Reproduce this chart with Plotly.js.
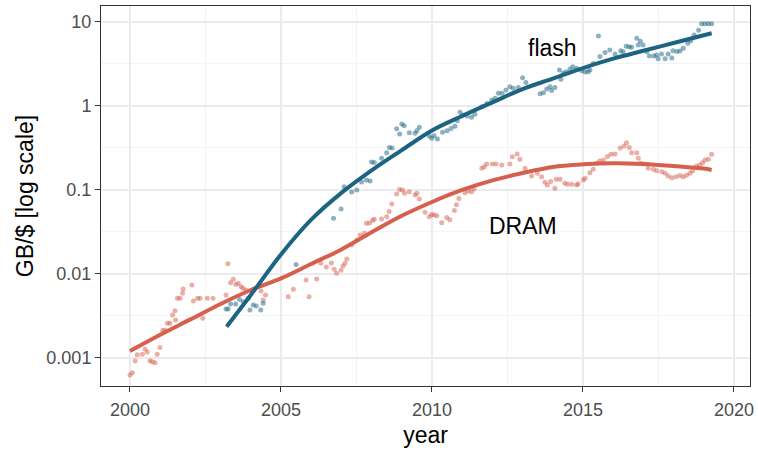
<!DOCTYPE html>
<html>
<head>
<meta charset="utf-8">
<script src="https://cdn.plot.ly/plotly-3.0.1.min.js"></script>
<style>html,body{margin:0;padding:0;background:#fff;}#chart{width:758px;height:450px;}</style>
</head>
<body>
<div id="chart"></div>
<script>
// DRAM price observations (GB per $)
const dramYear = [2000.00,2000.08,2000.17,2000.24,2000.41,2000.50,2000.57,2000.66,2000.74,2000.83,2000.90,2000.99,
  2001.08,2001.16,2001.24,2001.32,2001.41,2001.49,2001.51,2001.57,2001.66,2001.74,2001.76,
  2002.05,2002.10,2002.24,2002.32,2002.41,2002.56,2002.75,
  2003.18,2003.24,2003.33,2003.42,2003.50,2003.59,2003.68,2003.74,2003.84,
  2004.34,2004.41,2004.49,2005.24,2005.41,2005.83,2005.93,
  2006.18,2006.32,2006.50,2006.67,2006.76,2006.84,2006.99,2007.05,2007.12,2007.18,2007.34,2007.51,2007.62,2007.76,2007.83,2007.93,
  2008.03,2008.09,2008.33,2008.50,2008.58,2008.67,2008.83,2008.93,2009.02,2009.09,2009.25,2009.44,2009.50,2009.58,2009.77,2009.91,2009.99,
  2010.07,2010.16,2010.32,2010.49,2010.59,2010.74,2010.81,2010.89,2011.09,2011.20,2011.31,2011.39,2011.65,2011.73,2011.81,
  2012.00,2012.12,2012.31,2012.58,2012.66,2012.82,2012.91,2013.08,2013.30,2013.49,2013.63,2013.74,2013.82,2013.93,
  2014.07,2014.11,2014.24,2014.40,2014.49,2014.63,2014.79,2014.84,2015.01,2015.07,2015.23,2015.34,2015.45,2015.55,2015.68,2015.81,2015.93,
  2016.06,2016.23,2016.36,2016.44,2016.53,2016.61,2016.78,2016.83,2016.91,2017.02,2017.16,2017.33,2017.44,2017.61,2017.72,2017.82,2017.94,
  2018.08,2018.21,2018.32,2018.43,2018.54,2018.63,2018.76,2018.87,2018.96,2019.04,2019.15,2019.26];
const dramValue = [0.000628,0.000668,0.00092,0.00109,0.00111,0.00128,0.00118,0.00093,0.0009,0.00088,0.00111,0.00133,
  0.00212,0.00215,0.00259,0.0026,0.00325,0.00366,0.00283,0.00514,0.00514,0.00589,0.00663,
  0.00739,0.00477,0.00514,0.00514,0.00297,0.00514,0.00514,
  0.00562,0.0132,0.00788,0.00865,0.00754,0.0077,0.00706,0.00676,0.00645,
  0.00628,0.0049,0.00562,0.00537,0.00658,0.00849,0.00537,
  0.00872,0.0134,0.0121,0.0135,0.0114,0.0102,0.0111,0.01245,0.0134,0.0151,0.0221,0.0254,0.0291,0.0305,0.0402,0.0405,
  0.0436,0.0448,0.0451,0.0481,0.0555,0.0681,0.0896,0.101,0.1,0.0917,0.0955,0.0871,0.0914,0.0781,0.0543,0.0481,0.051,
  0.0504,0.0495,0.0408,0.0471,0.0442,0.057,0.0667,0.0791,0.0929,0.0973,0.0955,0.1028,0.181,0.189,0.204,
  0.204,0.204,0.199,0.204,0.249,0.268,0.232,0.181,0.147,0.158,0.144,0.124,0.115,0.126,
  0.105,0.134,0.134,0.120,0.117,0.117,0.115,0.119,0.1315,0.138,0.16,0.176,0.208,0.222,0.228,0.25,0.266,
  0.268,0.316,0.334,0.366,0.32,0.278,0.278,0.238,0.208,0.204,0.181,0.176,0.170,0.165,0.158,0.147,0.140,
  0.144,0.149,0.144,0.15,0.158,0.168,0.193,0.199,0.211,0.228,0.232,0.266];

// Flash price observations (GB per $)
const flashYear = [2003.18,2003.25,2003.33,2003.50,2003.63,2003.75,2003.92,2003.97,2004.08,2004.18,2004.33,2004.41,
  2005.50,2006.74,2006.99,2007.09,2007.34,2007.51,2007.67,2007.83,2007.95,
  2008.00,2008.09,2008.33,2008.50,2008.59,2008.68,2008.83,2008.93,2009.00,2009.08,2009.25,2009.44,2009.50,2009.58,2009.91,2009.99,
  2010.07,2010.18,2010.35,2010.50,2010.63,2010.76,2010.84,2010.93,2011.02,2011.16,2011.31,2011.42,2011.65,2011.82,2011.98,
  2012.09,2012.20,2012.32,2012.45,2012.58,2012.69,2012.86,2013.00,2013.11,2013.58,2013.69,2013.80,2013.91,2013.96,
  2014.07,2014.22,2014.27,2014.35,2014.44,2014.57,2014.66,2014.79,2014.96,2015.07,2015.17,2015.23,2015.34,2015.51,2015.56,2015.73,2015.89,
  2016.06,2016.25,2016.33,2016.43,2016.53,2016.61,2016.78,2016.83,2016.90,2016.99,2017.11,2017.20,2017.35,2017.44,2017.49,2017.60,2017.72,2017.82,2017.94,2017.98,
  2018.11,2018.21,2018.32,2018.47,2018.57,2018.68,2018.83,2018.93,2019.04,2019.15,2019.26];
const flashValue = [0.00383,0.00383,0.0044,0.0044,0.00497,0.00468,0.00514,0.00373,0.00428,0.00416,0.00373,0.00448,
  0.0130,0.046,0.0594,0.109,0.0946,0.1,0.1245,0.1315,0.128,
  0.215,0.213,0.238,0.278,0.321,0.316,0.537,0.464,0.611,0.583,0.481,0.473,0.508,0.557,0.44,0.412,
  0.443,0.405,0.486,0.507,0.54,0.572,0.668,0.84,0.781,0.76,0.735,0.80,0.982,1.07,1.178,
  1.235,1.416,1.416,1.55,1.70,1.624,1.66,2.17,1.91,1.40,1.44,1.59,1.69,1.53,
  1.66,2.68,2.08,2.45,2.56,2.75,2.93,2.81,2.62,2.54,2.56,2.68,3.2,6.81,3.88,4.34,4.64,
  4.15,4.55,4.43,5.13,5.08,5.0,6.39,5.32,5.9,5.32,4.43,3.94,3.94,4.05,3.65,4.16,3.65,4.16,3.73,4.55,
  4.45,4.5,4.86,5.57,5.98,7.0,7.97,9.55,9.55,9.55,9.55];

// Smoothed trends
const dramFitYear = [2000,2001,2002,2003,2004,2005,2006,2007,2008,2009,2010,2011,2012,2013,2014,2015,2016,2017,2018,2019,2019.26];
const dramFitValue = [0.00121,0.00189,0.00288,0.0044,0.00645,0.00887,0.01315,0.0196,0.0314,0.0493,0.072,0.1,0.130,0.159,0.188,0.202,0.208,0.204,0.193,0.180,0.173];
const flashFitYear = [2003.2,2004,2005,2006,2007,2008,2009,2010,2011,2012,2013,2014,2015,2016,2017,2018,2019,2019.26];
const flashFitValue = [0.00236,0.00562,0.0171,0.0443,0.0923,0.171,0.298,0.511,0.760,1.104,1.59,2.12,2.83,3.66,4.54,5.62,6.95,7.34];

const yTickVals = [0.001,0.01,0.1,1,10];
const yTickText = ['0.001','0.01','0.1','1','10'];
const xTickVals = [2000,2005,2010,2015,2020];
const labels = [{text:'flash', x:2014.0, y:4.9}, {text:'DRAM', x:2013.0, y:0.0373}];

const flashCol = '#1c6482';
const dramCol = '#d6604d';

const traces = [
  {x: dramYear, y: dramValue, type:'scatter', mode:'markers', marker:{color:dramCol, size:5, opacity:0.5}, hoverinfo:'skip'},
  {x: flashYear, y: flashValue, type:'scatter', mode:'markers', marker:{color:flashCol, size:5, opacity:0.5}, hoverinfo:'skip'},
  {x: dramFitYear, y: dramFitValue, type:'scatter', mode:'lines', line:{color:dramCol, width:4, shape:'spline', smoothing:1}, hoverinfo:'skip'},
  {x: flashFitYear, y: flashFitValue, type:'scatter', mode:'lines', line:{color:flashCol, width:4, shape:'spline', smoothing:1}, hoverinfo:'skip'}
];

const fam = '"Liberation Sans", Arial, sans-serif';
const layout = {
  width:758, height:450,
  margin:{l:101, r:8, t:6, b:64},
  paper_bgcolor:'#fff', plot_bgcolor:'#fff',
  showlegend:false,
  font:{family:fam},
  xaxis:{
    range:[1999.04, 2020.53],
    tickvals:xTickVals, ticktext:xTickVals.map(String),
    tickfont:{family:fam, size:18, color:'#4d4d4d'},
    ticks:'outside', ticklen:5, tickcolor:'#333333', tickwidth:1,
    ticklabelstandoff:2,
    showgrid:true, gridcolor:'#ebebeb', gridwidth:1.1,
    minor:{tickvals:[2002.5,2007.5,2012.5,2017.5], showgrid:true, gridcolor:'#ebebeb', gridwidth:0.55, ticklen:0},
    showline:true, linecolor:'#333333', linewidth:1, mirror:true,
    zeroline:false, automargin:false,
    title:{text:'year', font:{family:fam, size:23, color:'#000'}, standoff:8}
  },
  yaxis:{
    type:'log',
    range:[Math.log10(0.000464), Math.log10(15.5)],
    tickvals:yTickVals, ticktext:yTickText,
    tickfont:{family:fam, size:18, color:'#4d4d4d'},
    ticks:'outside', ticklen:5, tickcolor:'#333333', tickwidth:1,
    showgrid:true, gridcolor:'#ebebeb', gridwidth:1.1,
    minor:{tickvals:[Math.pow(10,-2.5),Math.pow(10,-1.5),Math.pow(10,-0.5),Math.pow(10,0.5)], showgrid:true, gridcolor:'#ebebeb', gridwidth:0.55, ticklen:0},
    showline:true, linecolor:'#333333', linewidth:1, mirror:true,
    zeroline:false, automargin:false,
    title:{text:'GB/$ [log scale]', font:{family:fam, size:23, color:'#000'}, standoff:6}
  },
  annotations: labels.map(l => ({x:l.x, y:Math.log10(l.y), xref:'x', yref:'y', text:l.text, showarrow:false,
    font:{family:fam, size:23, color:'#000'}, xanchor:'center', yanchor:'middle'}))
};

Plotly.newPlot('chart', traces, layout, {displayModeBar:false, staticPlot:true});
</script>
</body>
</html>
